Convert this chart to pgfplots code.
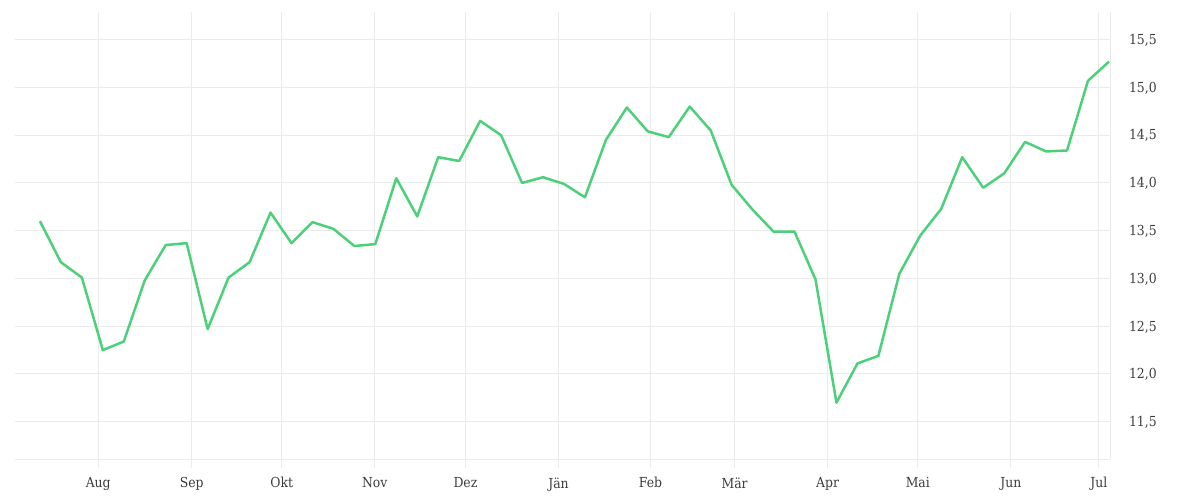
\documentclass[border=0pt]{standalone}
\usepackage{pgfplots}
\pgfplotsset{compat=1.18}
\usepackage{fontspec}
\setmainfont{DejaVu Serif Condensed}
\definecolor{linegreen}{RGB}{76,208,122}
\definecolor{gridgray}{RGB}{235,235,235}
\definecolor{labelgray}{RGB}{60,60,60}
\begin{document}
\begin{tikzpicture}[x=0.5pt,y=0.5pt]
\useasboundingbox (0,0) rectangle (1200,500);
\begin{axis}[
    at={(7.5pt,20.5pt)}, anchor=south west,
    scale only axis,
    width=547.5pt, height=223.5pt,
    xmin=-1.19, xmax=51.05,
    ymin=11.11, ymax=15.79,
    axis x line*=bottom,
    axis y line*=right,
    axis line style={gridgray, line width=0.5pt},
    xtick={2.78,7.24,11.54,15.97,20.30,24.74,29.13,33.14,37.58,41.88,46.32,50.52},
    xticklabels={Aug,Sep,Okt,Nov,Dez,Jän,Feb,Mär,Apr,Mai,Jun,Jul},
    ytick={11.5,12,12.5,13,13.5,14,14.5,15,15.5},
    xmajorgrids, ymajorgrids,
    grid style={gridgray, line width=0.5pt},
    x tick style={gridgray, line width=0.5pt},
    y tick style={draw=none},
    tick align=outside,
    major tick length=4.5pt,
    ticklabel style={font=\fontsize{6.9}{8}\selectfont, text=labelgray},
    xticklabel style={yshift=-1.2pt},
    yticklabel style={xshift=1.5pt, yshift=-0.3pt},
    /pgf/number format/.cd, fixed, fixed zerofill, precision=1, use comma, assume math mode=true,
]
\addplot[linegreen, line width=1.25pt, line join=round] coordinates {
(0,13.60) (1,13.17) (2,13.01) (3,12.25) (4,12.34) (5,12.98) (6,13.35) (7,13.37)
(8,12.47) (9,13.01) (10,13.17) (11,13.69) (12,13.37) (13,13.59) (14,13.52) (15,13.34)
(16,13.36) (17,14.05) (18,13.65) (19,14.27) (20,14.23) (21,14.65) (22,14.50) (23,14.00)
(24,14.06) (25,13.99) (26,13.85) (27,14.45) (28,14.79) (29,14.54) (30,14.48) (31,14.80)
(32,14.55) (33,13.98) (34,13.72) (35,13.49) (36,13.49) (37,12.99) (38,11.70) (39,12.11)
(40,12.19) (41,13.05) (42,13.45) (43,13.73) (44,14.27) (45,13.95) (46,14.10) (47,14.43)
(48,14.33) (49,14.34) (50,15.07) (51,15.27)
};
\end{axis}
\end{tikzpicture}
\end{document}
